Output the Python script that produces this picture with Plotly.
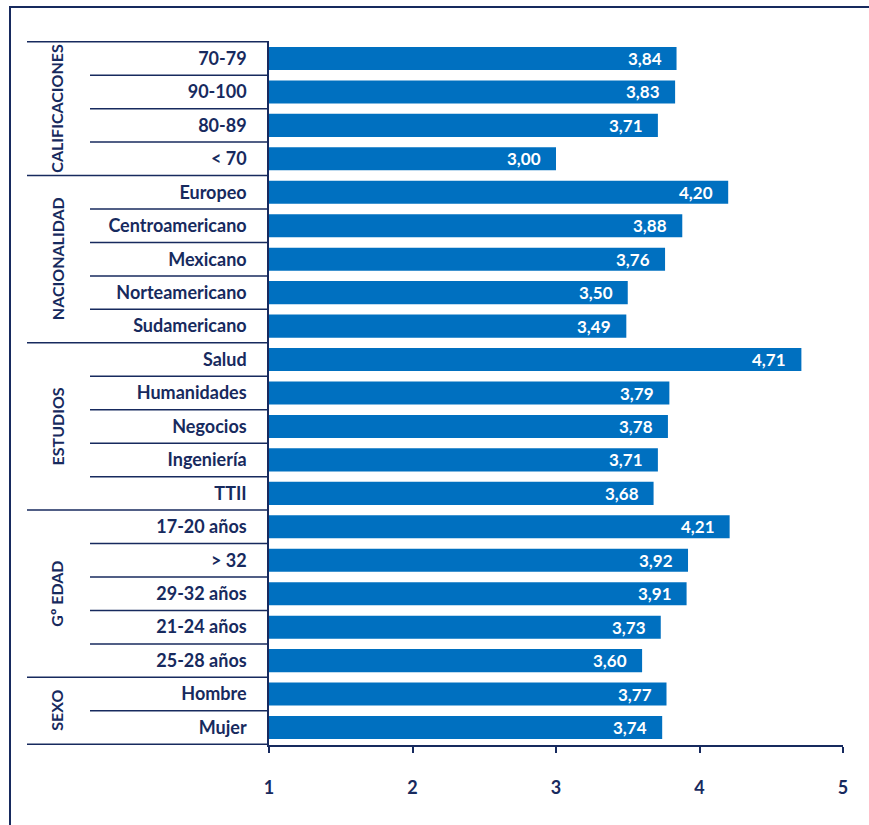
import plotly.graph_objects as go

# Grouped satisfaction means, top-to-bottom order within each group
groups = ["CALIFICACIONES", "NACIONALIDAD", "ESTUDIOS", "Gº EDAD", "SEXO"]
group_categories = [
    ["70-79", "90-100", "80-89", "< 70"],
    ["Europeo", "Centroamericano", "Mexicano", "Norteamericano", "Sudamericano"],
    ["Salud", "Humanidades", "Negocios", "Ingeniería", "TTII"],
    ["17-20 años", "> 32", "29-32 años", "21-24 años", "25-28 años"],
    ["Hombre", "Mujer"],
]
group_values = [
    [3.84, 3.83, 3.71, 3.00],
    [4.20, 3.88, 3.76, 3.50, 3.49],
    [4.71, 3.79, 3.78, 3.71, 3.68],
    [4.21, 3.92, 3.91, 3.73, 3.60],
    [3.77, 3.74],
]
x_ticks = [1, 2, 3, 4, 5]

categories = [c for g in group_categories for c in g]
values = [v for g in group_values for v in g]

NAVY = "#172a5e"
BLUE = "#0070C0"
FONT = "Lato"

W, H = 869, 825
ML, MR, MT, MB = 269, 26, 41, 80
PW = W - ML - MR
PH = H - MT - MB


def px_to_paper_x(px):
    return (px - ML) / PW


def px_to_paper_y(py):
    return (H - MB - py) / PH


fig = go.Figure()
fig.add_trace(go.Bar(
    x=values,
    y=categories,
    orientation="h",
    marker=dict(color=BLUE, line=dict(width=0)),
    width=0.69,
    hoverinfo="x+y",
))

# Value labels inside the bar ends
for c, v in zip(categories, values):
    fig.add_annotation(
        x=v, y=c, xref="x", yref="y",
        text=f"{v:.2f}".replace(".", ","),
        showarrow=False, xanchor="right", xshift=-13,
        font=dict(family=FONT, size=17, color="white", weight="bold"),
    )

shapes = []
annotations = []
x_outer = px_to_paper_x(27)
x_inner = px_to_paper_x(90)
x_axis0 = 0.0
start = 0
for gname, cats in zip(groups, group_categories):
    n = len(cats)
    # group boundary (top)
    shapes.append(dict(type="line", xref="paper", yref="y",
                       x0=x_outer, x1=x_axis0, y0=start - 0.5, y1=start - 0.5,
                       line=dict(color=NAVY, width=1.5)))
    # row separators within the group
    for k in range(1, n):
        yk = start + k - 0.5
        shapes.append(dict(type="line", xref="paper", yref="y",
                           x0=x_inner, x1=x_axis0, y0=yk, y1=yk,
                           line=dict(color=NAVY, width=1.5)))
    annotations.append(dict(
        x=px_to_paper_x(57), xref="paper",
        y=start + (n - 1) / 2, yref="y",
        text=gname, textangle=-90, showarrow=False,
        xanchor="center", yanchor="middle",
        font=dict(family=FONT, size=16, color=NAVY, weight="bold"),
    ))
    start += n
shapes.append(dict(type="line", xref="paper", yref="y",
                   x0=x_outer, x1=x_axis0, y0=start - 0.5, y1=start - 0.5,
                   line=dict(color=NAVY, width=1.5)))

# outer frame (left and top edges)
fx = px_to_paper_x(10)
fy = px_to_paper_y(7)
shapes.append(dict(type="path", xref="paper", yref="paper",
                   path=f"M {fx},-0.3 L {fx},{fy} L 1.2,{fy}",
                   line=dict(color=NAVY, width=2)))

for a in annotations:
    fig.add_annotation(**a)

fig.update_layout(
    width=W, height=H,
    margin=dict(l=ML, r=MR, t=MT, b=MB),
    paper_bgcolor="white", plot_bgcolor="white",
    showlegend=False,
    shapes=shapes,
    bargap=0.31,
    separators=",.",
    font=dict(family=FONT, color=NAVY),
)
fig.update_xaxes(
    range=[1, 5], tickvals=x_ticks,
    showgrid=False, zeroline=False,
    showline=True, linecolor=NAVY, linewidth=1.5,
    ticks="outside", ticklen=6, tickcolor=NAVY, tickwidth=1.5,
    ticklabelstandoff=20,
    tickfont=dict(family=FONT, size=18, color=NAVY, weight="bold"),
)
fig.update_yaxes(
    categoryorder="array", categoryarray=categories,
    autorange="reversed",
    showgrid=False, zeroline=False,
    showline=True, linecolor=NAVY, linewidth=1.5,
    ticks="", ticklabelstandoff=17,
    tickfont=dict(family=FONT, size=18, color=NAVY, weight="bold"),
)

fig.write_html("out.html")
